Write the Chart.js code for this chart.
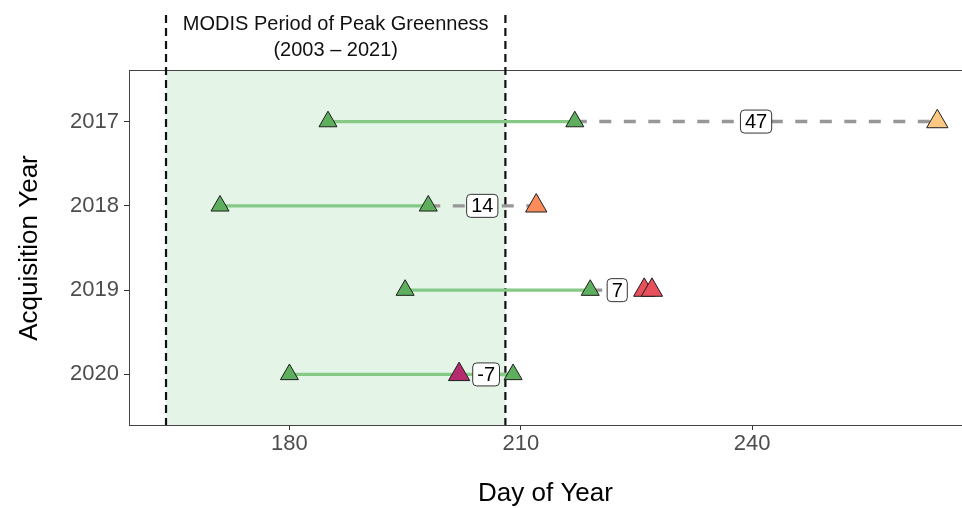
<!DOCTYPE html>
<html>
<head>
<meta charset="utf-8">
<script src="https://cdn.jsdelivr.net/npm/chart.js@4.4.1/dist/chart.umd.min.js"></script>
<style>
  html, body { margin: 0; padding: 0; background: #ffffff; }
  canvas { display: block; }
</style>
</head>
<body>
<canvas id="chart" width="962" height="508"></canvas>
<script>
// Acquisition years (rows, top to bottom)
const years = ['2017', '2018', '2019', '2020'];
// Landsat peak-greenness window per year (day of year)
const peakStart = [185, 171, 195, 180];
const peakEnd = [217, 198, 219, 209];
// Image acquisition dates per year (day of year)
const acquisitions = [[264], [212], [226, 227], [202]];
const acquisitionColors = ['#FDC882', '#FC8C5A', '#E8505B', '#B52B6E'];
// Long-term MODIS peak window (day of year)
const modisPeak = [164, 208];
const modisLabel = ['MODIS Period of Peak Greenness', '(2003 \u2013 2021)'];
// Axis ticks and range
const dayTicks = [180, 210, 240];
const dayRange = [159.2, 267.2];

const FONT = '"Liberation Sans", Arial, Helvetica, sans-serif';
Chart.defaults.font.family = FONT;

const GREEN_FILL = '#5DAE5D';
const GREEN_LINE = '#86C986';
const GREY_LINK = '#979797';
const OUTLINE = '#1E1E1E';

const datasets = [];

// Triangles for acquisition dates (drawn on top)
const acqPoints = [];
const acqColors = [];
years.forEach((yr, i) => {
  acquisitions[i].forEach(d => {
    acqPoints.push({ x: d, y: i });
    acqColors.push(acquisitionColors[i]);
  });
});
datasets.push({
  label: 'acquisition',
  data: acqPoints,
  pointStyle: 'triangle',
  pointRadius: 12.3,
  pointHoverRadius: 12.3,
  backgroundColor: acqColors,
  borderColor: OUTLINE,
  borderWidth: 1,
  showLine: false,
  order: 0
});

// Triangles for start / end of the peak window
const peakPoints = [];
years.forEach((yr, i) => {
  peakPoints.push({ x: peakStart[i], y: i });
  peakPoints.push({ x: peakEnd[i], y: i });
});
datasets.push({
  label: 'peak',
  data: peakPoints,
  pointStyle: 'triangle',
  pointRadius: 10.4,
  pointHoverRadius: 10.4,
  backgroundColor: GREEN_FILL,
  borderColor: OUTLINE,
  borderWidth: 1,
  showLine: false,
  order: 1
});

// Solid green segment spanning the peak window
years.forEach((yr, i) => {
  datasets.push({
    label: 'window ' + yr,
    data: [{ x: peakStart[i], y: i }, { x: peakEnd[i], y: i }],
    showLine: true,
    borderColor: GREEN_LINE,
    borderWidth: 3.2,
    pointRadius: 0,
    fill: false,
    order: 2
  });
});

// Dashed grey link from end of window to the acquisition date
years.forEach((yr, i) => {
  datasets.push({
    label: 'offset ' + yr,
    data: [{ x: peakEnd[i], y: i }, { x: acquisitions[i][0], y: i }],
    showLine: true,
    borderColor: GREY_LINK,
    borderWidth: 3.4,
    borderDash: [12, 12.5],
    pointRadius: 0,
    fill: false,
    order: 3
  });
});

// Shaded MODIS window, its dashed bounds, panel top edge and caption
const peakWindowPlugin = {
  id: 'peakWindow',
  beforeDatasetsDraw(chart) {
    const { ctx, chartArea: a, scales: { x } } = chart;
    const x0 = x.getPixelForValue(modisPeak[0]);
    const x1 = x.getPixelForValue(modisPeak[1]);
    ctx.save();
    ctx.fillStyle = '#E4F5E8';
    ctx.fillRect(x0, a.top, x1 - x0, a.bottom - a.top);
    ctx.strokeStyle = '#444444';
    ctx.lineWidth = 1;
    ctx.beginPath();
    ctx.moveTo(a.left, a.top - 0.5);
    ctx.lineTo(a.right + 2, a.top - 0.5);
    ctx.stroke();
    ctx.strokeStyle = '#111111';
    ctx.lineWidth = 2.2;
    ctx.setLineDash([8, 5]);
    [x0, x1].forEach(px => {
      ctx.beginPath();
      ctx.moveTo(px, 15);
      ctx.lineTo(px, a.bottom);
      ctx.stroke();
    });
    ctx.restore();
  },
  afterDraw(chart) {
    const { ctx, scales: { x } } = chart;
    const cx = x.getPixelForValue((modisPeak[0] + modisPeak[1]) / 2);
    ctx.save();
    ctx.fillStyle = '#111111';
    ctx.font = '20px ' + FONT;
    ctx.textAlign = 'center';
    ctx.textBaseline = 'alphabetic';
    ctx.fillText(modisLabel[0], cx, 29.5);
    ctx.fillText(modisLabel[1], cx, 55.5);
    ctx.restore();
  }
};

// Boxed day offsets between window end and acquisition
const offsetLabelPlugin = {
  id: 'offsetLabels',
  afterDatasetsDraw(chart) {
    const { ctx, scales: { x, y } } = chart;
    ctx.save();
    ctx.font = '20px ' + FONT;
    ctx.textAlign = 'center';
    ctx.textBaseline = 'middle';
    years.forEach((yr, i) => {
      const acq = acquisitions[i][0];
      const diff = acq - peakEnd[i];
      const px = x.getPixelForValue((acq + peakEnd[i]) / 2);
      const py = y.getPixelForValue(i);
      const txt = String(diff);
      const w = ctx.measureText(txt).width + 9;
      const h = 23;
      ctx.beginPath();
      ctx.roundRect(px - w / 2, py - h / 2, w, h, 4);
      ctx.fillStyle = '#ffffff';
      ctx.fill();
      ctx.strokeStyle = '#333333';
      ctx.lineWidth = 1;
      ctx.stroke();
      ctx.fillStyle = '#000000';
      ctx.fillText(txt, px, py + 1);
    });
    ctx.restore();
  }
};

new Chart(document.getElementById('chart'), {
  type: 'scatter',
  data: { datasets },
  plugins: [peakWindowPlugin, offsetLabelPlugin],
  options: {
    responsive: false,
    animation: false,
    events: [],
    layout: { autoPadding: false, padding: { top: 71, right: 0, bottom: 0, left: 0 } },
    plugins: { legend: { display: false }, tooltip: { enabled: false } },
    scales: {
      x: {
        type: 'linear',
        position: 'bottom',
        min: dayRange[0],
        max: dayRange[1],
        afterBuildTicks: s => { s.ticks = dayTicks.map(v => ({ value: v })); },
        afterFit: s => { s.height = 83; s.paddingLeft = 0; s.paddingRight = 0; },
        ticks: {
          color: '#4D4D4D',
          font: { size: 22 },
          padding: 1,
          maxRotation: 0
        },
        grid: {
          display: true,
          drawOnChartArea: false,
          drawTicks: true,
          tickLength: 5,
          tickColor: '#333333',
          tickWidth: 1
        },
        border: { display: true, color: '#444444', width: 1 },
        title: {
          display: true,
          text: 'Day of Year',
          color: '#000000',
          font: { size: 26, lineHeight: 1 },
          padding: { top: 0, bottom: 1 }
        }
      },
      y: {
        type: 'linear',
        position: 'left',
        min: -0.6,
        max: 3.6,
        reverse: true,
        afterBuildTicks: s => { s.ticks = years.map((yr, i) => ({ value: i })); },
        afterFit: s => { s.width = 129; s.paddingTop = 0; s.paddingBottom = 0; },
        ticks: {
          color: '#4D4D4D',
          font: { size: 22 },
          padding: 5,
          callback: v => years[v]
        },
        grid: {
          display: true,
          drawOnChartArea: false,
          drawTicks: true,
          tickLength: 5,
          tickColor: '#333333',
          tickWidth: 1
        },
        border: { display: true, color: '#444444', width: 1 },
        title: {
          display: true,
          text: 'Acquisition Year',
          color: '#000000',
          font: { size: 26, lineHeight: 1 },
          padding: { top: 17, bottom: 0 }
        }
      }
    }
  }
});
</script>
</body>
</html>
